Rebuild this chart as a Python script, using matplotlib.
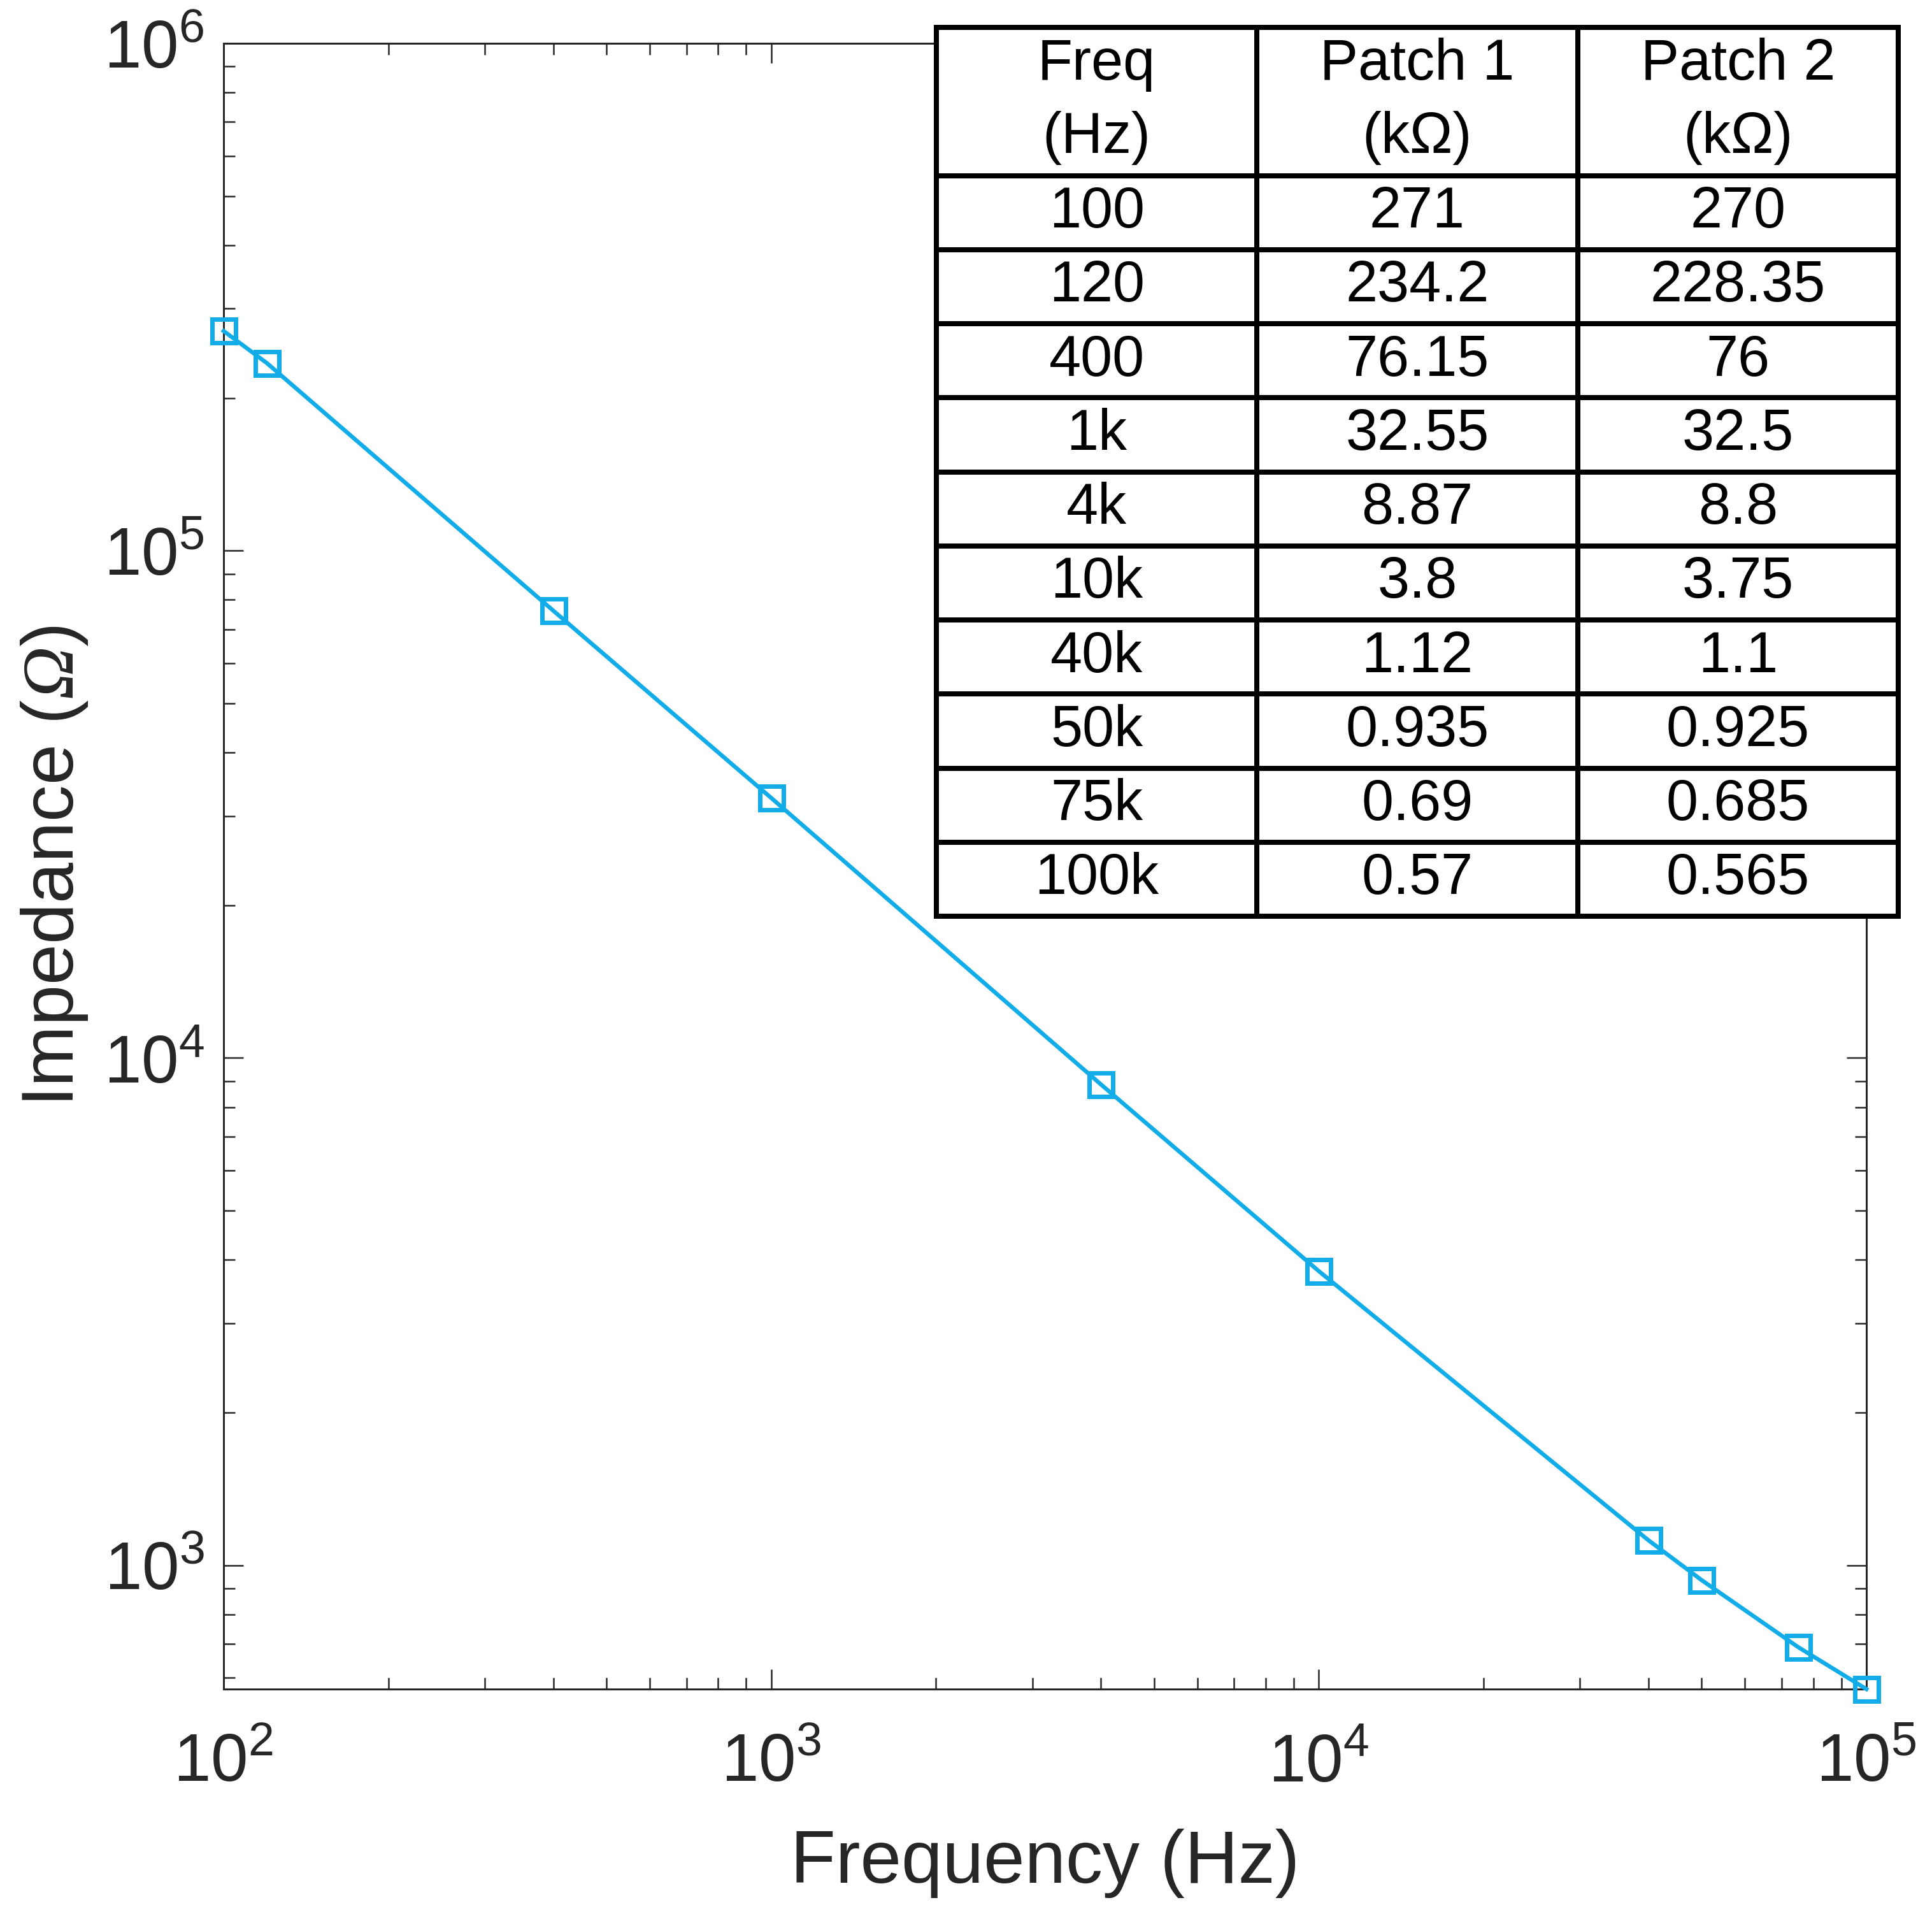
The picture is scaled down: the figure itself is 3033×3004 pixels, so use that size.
import numpy as np
import matplotlib
matplotlib.use('Agg')
import matplotlib.pyplot as plt
from matplotlib.ticker import LogLocator, NullFormatter, FixedLocator

plt.rcParams['font.family'] = ['Liberation Sans', 'DejaVu Sans']
plt.rcParams['mathtext.fontset'] = 'custom'
plt.rcParams['mathtext.rm'] = 'Liberation Sans'
plt.rcParams['mathtext.sf'] = 'Liberation Serif:italic'

# data (impedance values in kOhm)
freq = [100, 120, 400, 1000, 4000, 10000, 40000, 50000, 75000, 100000]
freq_labels = ['100', '120', '400', '1k', '4k', '10k', '40k', '50k', '75k', '100k']
patch1 = [271, 234.2, 76.15, 32.55, 8.87, 3.8, 1.12, 0.935, 0.69, 0.57]
patch2 = [270, 228.35, 76, 32.5, 8.8, 3.75, 1.1, 0.925, 0.685, 0.565]
patch1_txt = ['271', '234.2', '76.15', '32.55', '8.87', '3.8', '1.12', '0.935', '0.69', '0.57']
patch2_txt = ['270', '228.35', '76', '32.5', '8.8', '3.75', '1.1', '0.925', '0.685', '0.565']
col_labels = ['Freq\n(Hz)', 'Patch 1\n(k\u03a9)', 'Patch 2\n(k\u03a9)']

W, H = 3033, 3004
fig = plt.figure(figsize=(W / 72, H / 72), dpi=72)

left, right, top, bottom = 351, 2930, 68, 2651
ax = fig.add_axes([left / W, 1 - bottom / H, (right - left) / W, (bottom - top) / H])

z = np.array(patch1) * 1000
line_col = '#12ADE8'
ax.plot(freq, z, '-s', color=line_col, lw=6.5, ms=37, mfc='none', mew=7, clip_on=False, zorder=3)

ax.set_xscale('log')
ax.set_yscale('log')
ax.set_xlim(100, 1e5)
ax.set_ylim(z.min(), 1e6)

dark = '#262626'
ax.xaxis.set_major_locator(FixedLocator([1e2, 1e3, 1e4, 1e5]))
ax.yaxis.set_major_locator(FixedLocator([1e3, 1e4, 1e5, 1e6]))
ax.set_xticklabels([r'$\mathregular{10^{%d}}$' % e for e in [2, 3, 4, 5]])
ax.set_yticklabels([r'$\mathregular{10^{%d}}$' % e for e in [3, 4, 5, 6]])
ax.xaxis.set_minor_locator(LogLocator(base=10, subs=np.arange(2, 10), numticks=20))
ax.yaxis.set_minor_locator(LogLocator(base=10, subs=np.arange(2, 10), numticks=20))
ax.xaxis.set_minor_formatter(NullFormatter())
ax.yaxis.set_minor_formatter(NullFormatter())

ax.tick_params(which='both', direction='in', top=True, right=True, colors=dark, width=2.5)
ax.tick_params(which='major', length=31, labelsize=105)
ax.tick_params(which='minor', length=18)
ax.tick_params(axis='x', which='major', pad=68)
ax.tick_params(axis='y', which='major', pad=30)
for s in ax.spines.values():
    s.set_linewidth(3)
    s.set_color(dark)

ax.set_xlabel('Frequency (Hz)', fontsize=116, color=dark, labelpad=52)
ax.set_ylabel(r'Impedance ($\mathsf{\Omega}$)', fontsize=115, color=dark, labelpad=22)

# table overlay in the top right
tl, tr, tt, tb = 1470, 2980, 43, 1438
tax = fig.add_axes([tl / W, 1 - tb / H, (tr - tl) / W, (tb - tt) / H])
tax.axis('off')
rows = [[f, a, b] for f, a, b in zip(freq_labels, patch1_txt, patch2_txt)]
tbl = tax.table(cellText=rows, colLabels=col_labels, cellLoc='center', loc='center', bbox=[0, 0, 1, 1])
tbl.auto_set_font_size(False)
nrows = len(rows) + 2
for (r, c), cell in tbl.get_celld().items():
    cell.set_linewidth(8)
    cell.set_edgecolor('black')
    cell.set_facecolor('white')
    cell.get_text().set_fontsize(90)
    cell.get_text().set_linespacing(1.45)
    if r == 0:
        cell.set_height(2 / nrows)
        cell.set_y(1 - 2 / nrows)
    else:
        cell.set_height(1 / nrows)
        cell.set_y(1 - (r + 2) / nrows)

fig.savefig('out.png', dpi=72)
